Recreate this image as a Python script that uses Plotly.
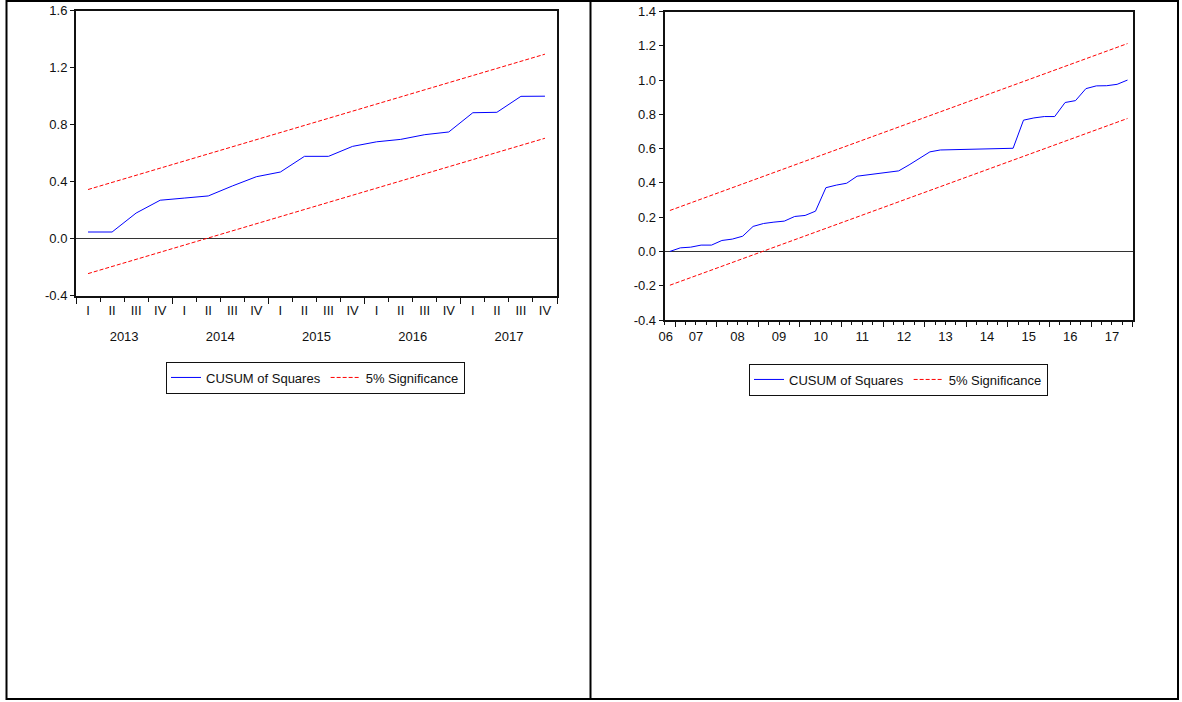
import plotly.graph_objects as go

W, H = 1182, 702

# ---------------- data ----------------
# Left panel: quarterly, 2013Q1 - 2017Q4
left_quarter_labels = ["I", "II", "III", "IV", "I", "II", "III", "IV", "I", "II",
                       "III", "IV", "I", "II", "III", "IV", "I", "II", "III", "IV"]
left_years = ["2013", "2014", "2015", "2016", "2017"]
left_cusumsq = [0.047, 0.047, 0.18, 0.27, 0.285, 0.30, 0.37, 0.435, 0.468, 0.578,
                0.578, 0.648, 0.68, 0.697, 0.73, 0.749, 0.884, 0.887, 0.999, 1.0]
left_upper_ends = [0.345, 1.295]   # 5% bound at first / last observation
left_lower_ends = [-0.245, 0.705]
left_yticks = [-0.4, 0.0, 0.4, 0.8, 1.2, 1.6]
left_ytext = ["-0.4", "0.0", "0.4", "0.8", "1.2", "1.6"]

# Right panel: quarterly, 2006Q4 - 2017Q4
right_years = ["06", "07", "08", "09", "10", "11", "12", "13", "14", "15", "16", "17"]
right_cusumsq = [0.000, 0.021, 0.025, 0.037, 0.037, 0.064, 0.072, 0.089, 0.146, 0.163,
                 0.171, 0.177, 0.204, 0.210, 0.235, 0.372, 0.387, 0.398, 0.439, 0.447,
                 0.455, 0.462, 0.470, 0.505, 0.545, 0.581, 0.592, 0.593, 0.594, 0.595,
                 0.596, 0.597, 0.598, 0.602, 0.766, 0.779, 0.787, 0.787, 0.869, 0.880,
                 0.950, 0.966, 0.967, 0.975, 1.000]
right_upper_ends = [0.239, 1.213]
right_lower_ends = [-0.197, 0.776]
right_yticks = [-0.4, -0.2, 0.0, 0.2, 0.4, 0.6, 0.8, 1.0, 1.2, 1.4]
right_ytext = ["-0.4", "-0.2", "0.0", "0.2", "0.4", "0.6", "0.8", "1.0", "1.2", "1.4"]

FONT = "Arial, Liberation Sans, sans-serif"
BLUE = "#0000FF"
RED = "#FF0000"
INK = "#111"


def px_x(p):
    return p / W


def px_y(p):
    return 1 - p / H


nL = len(left_cusumsq)
nR = len(right_cusumsq)
xL = list(range(nL))
xR = list(range(nR))

fig = go.Figure()

# left panel traces
fig.add_trace(go.Scatter(x=xL, y=left_cusumsq, mode="lines", name="CUSUM of Squares",
                         line=dict(color=BLUE, width=1), xaxis="x", yaxis="y", legend="legend"))
fig.add_trace(go.Scatter(x=[xL[0], xL[-1]], y=left_upper_ends, mode="lines", name="5% Significance",
                         line=dict(color=RED, width=1, dash="4px,2px"), xaxis="x", yaxis="y",
                         legend="legend", legendgroup="sigL"))
fig.add_trace(go.Scatter(x=[xL[0], xL[-1]], y=left_lower_ends, mode="lines", name="5% Significance",
                         line=dict(color=RED, width=1, dash="4px,2px"), xaxis="x", yaxis="y",
                         legend="legend", legendgroup="sigL", showlegend=False))

# right panel traces
fig.add_trace(go.Scatter(x=xR, y=right_cusumsq, mode="lines", name="CUSUM of Squares",
                         line=dict(color=BLUE, width=1), xaxis="x2", yaxis="y2", legend="legend2"))
fig.add_trace(go.Scatter(x=[xR[0], xR[-1]], y=right_upper_ends, mode="lines", name="5% Significance",
                         line=dict(color=RED, width=1, dash="4px,2px"), xaxis="x2", yaxis="y2",
                         legend="legend2", legendgroup="sigR"))
fig.add_trace(go.Scatter(x=[xR[0], xR[-1]], y=right_lower_ends, mode="lines", name="5% Significance",
                         line=dict(color=RED, width=1, dash="4px,2px"), xaxis="x2", yaxis="y2",
                         legend="legend2", legendgroup="sigR", showlegend=False))

# empty carrier traces so the overlay axes (year ticks / labels) get drawn
fig.add_trace(go.Scatter(x=[], y=[], mode="lines", xaxis="x3", yaxis="y", showlegend=False,
                         hoverinfo="skip"))
fig.add_trace(go.Scatter(x=[], y=[], mode="lines", xaxis="x4", yaxis="y2", showlegend=False,
                         hoverinfo="skip"))

# tick positions derived from the data length
L_bounds = [i - 0.5 for i in range(nL + 1)]
L_year_bounds = [i - 0.5 for i in range(0, nL + 1, 4)]
L_year_centers = [i + 1.5 for i in range(0, nL, 4)]
R_bounds = [i - 0.5 for i in range(nR + 1)]
R_year_bounds = [i + 0.5 for i in range(0, nR, 4)]
R_year_centers = [-0.4] + [i + 2.5 for i in range(0, nR - 1, 4)]

tickfont = dict(family=FONT, size=13, color=INK)
axis_common = dict(showline=True, linecolor=INK, linewidth=2, mirror=True, showgrid=False,
                   tickfont=tickfont, automargin=False)

fig.update_layout(
    width=W, height=H,
    margin=dict(l=0, r=0, t=0, b=0, pad=0, autoexpand=False),
    paper_bgcolor="white", plot_bgcolor="white",
    font=dict(family=FONT, size=13, color=INK),
    xaxis=dict(domain=[px_x(76), px_x(557)], range=[-0.5, nL - 0.5], anchor="y",
               tickmode="array", tickvals=xL, ticktext=left_quarter_labels, ticks="",
               ticklabelstandoff=2, zeroline=False,
               minor=dict(tickmode="array", tickvals=L_bounds, ticks="outside", ticklen=4,
                          tickcolor=INK, tickwidth=1),
               **axis_common),
    xaxis3=dict(overlaying="x", anchor="y", range=[-0.5, nL - 0.5], side="bottom",
                tickmode="array", tickvals=L_year_centers, ticktext=left_years, ticks="",
                ticklabelstandoff=31, showline=False, showgrid=False, zeroline=False,
                tickfont=tickfont, automargin=False,
                minor=dict(tickmode="array", tickvals=L_year_bounds, ticks="outside", ticklen=7,
                           tickcolor=INK, tickwidth=1)),
    yaxis=dict(domain=[px_y(295.7), px_y(10.7)], range=[-0.4, 1.6], anchor="x",
               tickmode="array", tickvals=left_yticks, ticktext=left_ytext,
               ticks="outside", ticklen=4, tickcolor=INK,
               zeroline=True, zerolinecolor="#333", zerolinewidth=1, **axis_common),
    xaxis2=dict(domain=[px_x(664.7), px_x(1132.7)], range=[-0.5, nR - 0.5], anchor="y2",
                tickmode="array", tickvals=R_year_centers, ticktext=right_years, ticks="",
                ticklabelstandoff=3, zeroline=False,
                minor=dict(tickmode="array", tickvals=R_bounds, ticks="outside", ticklen=3,
                           tickcolor=INK, tickwidth=1),
                **axis_common),
    xaxis4=dict(overlaying="x2", anchor="y2", range=[-0.5, nR - 0.5], side="bottom",
                tickmode="array", tickvals=R_year_bounds, ticks="outside", ticklen=6,
                tickcolor=INK, showticklabels=False, showline=False, showgrid=False,
                zeroline=False, automargin=False),
    yaxis2=dict(domain=[px_y(320), px_y(11.5)], range=[-0.4, 1.4], anchor="x2",
                tickmode="array", tickvals=right_yticks, ticktext=right_ytext,
                ticks="outside", ticklen=4, tickcolor=INK,
                zeroline=True, zerolinecolor="#333", zerolinewidth=1, **axis_common),
    legend=dict(orientation="h", x=px_x(315.5), xanchor="center", y=px_y(361.5), yanchor="top",
                bordercolor=INK, borderwidth=1, bgcolor="white",
                font=dict(family=FONT, size=13, color=INK), itemwidth=30,
                tracegroupgap=0, itemclick=False),
    legend2=dict(orientation="h", x=px_x(898.5), xanchor="center", y=px_y(363.5), yanchor="top",
                 bordercolor=INK, borderwidth=1, bgcolor="white",
                 font=dict(family=FONT, size=13, color=INK), itemwidth=30,
                 tracegroupgap=0, itemclick=False),
    showlegend=True,
)

# outer table frame
frame = dict(type="line", xref="paper", yref="paper", line=dict(color="black", width=2))
fig.add_shape(x0=px_x(6.5), x1=px_x(6.5), y0=px_y(0), y1=px_y(700), **frame)
fig.add_shape(x0=px_x(590.5), x1=px_x(590.5), y0=px_y(0), y1=px_y(700), **frame)
fig.add_shape(x0=px_x(1178), x1=px_x(1178), y0=px_y(0), y1=px_y(700), **frame)
fig.add_shape(x0=px_x(6.5), x1=px_x(1178), y0=px_y(1), y1=px_y(1), **frame)
fig.add_shape(x0=px_x(6.5), x1=px_x(1178), y0=px_y(699), y1=px_y(699), **frame)

post = """
var gd = document.getElementById('{plot_id}');
document.documentElement.style.margin='0';
document.body.style.margin='0';
document.body.style.overflow='hidden';
gd.style.position='fixed';
gd.style.left='0px';
gd.style.top='0px';
"""

fig.write_html("out.html", post_script=post, config={"displayModeBar": False, "responsive": False})
